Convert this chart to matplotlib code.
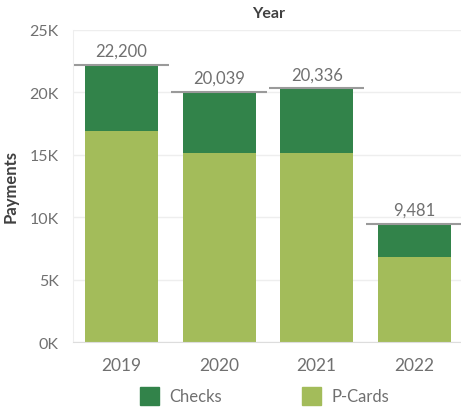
import matplotlib.pyplot as plt
from matplotlib.patches import Patch

years = ["2019", "2020", "2021", "2022"]
totals = [22200, 20039, 20336, 9481]
pcards = [16900, 15100, 15100, 6800]
checks = [t - p for t, p in zip(totals, pcards)]
yticks = [0, 5000, 10000, 15000, 20000, 25000]
ytick_labels = ["0K", "5K", "10K", "15K", "20K", "25K"]

dark_green = "#32834a"
light_green = "#a3bc5a"
grey_text = "#707070"

plt.rcParams['font.family'] = ['Lato', 'DejaVu Sans']

fig = plt.figure(figsize=(4.61, 4.10), dpi=100)
ax = fig.add_axes([0.158, 0.163, 0.842, 0.762])

x = range(len(years))
ax.bar(x, pcards, width=0.75, color=light_green, zorder=2)
ax.bar(x, checks, width=0.75, bottom=pcards, color=dark_green, zorder=2)

# total reference lines + labels
for i, t in enumerate(totals):
    ax.hlines(t, i - 0.49, i + 0.49, color="#9a9a9a", lw=1.5, zorder=3)
    ax.text(i, t + 450, f"{t:,}", ha="center", va="bottom",
            fontsize=12, color=grey_text)

ax.set_xlim(-0.5, 3.48)
ax.set_ylim(0, 25000)
ax.set_xticks(list(x))
ax.set_xticklabels(years, fontsize=12.5, color=grey_text)
ax.set_yticks(yticks)
ax.set_yticklabels(ytick_labels, fontsize=11.5, color=grey_text)
ax.tick_params(axis="both", length=0)
ax.tick_params(axis="y", pad=10)
ax.tick_params(axis="x", pad=11)
ax.grid(axis="y", color="#eeeeee", lw=1, zorder=0)

for s in ["top", "right"]:
    ax.spines[s].set_visible(False)
ax.spines["left"].set_color("#eeeeee")
ax.spines["bottom"].set_color("#dddddd")

ax.set_ylabel("Payments", fontsize=12, fontweight="bold", color="#404040", labelpad=8)
fig.text(0.582, 0.965, "Year", ha="center", va="center",
         fontsize=11.5, fontweight="bold", color="#404040")

handles = [Patch(color=dark_green, label="Checks"),
           Patch(color=light_green, label="P-Cards")]
fig.legend(handles=handles, loc="center", bbox_to_anchor=(0.574, 0.032),
           ncol=2, frameon=False, fontsize=12, handlelength=1.15,
           handleheight=1.3, handletextpad=0.6, columnspacing=4.8,
           labelcolor=grey_text)

fig.savefig("out.png", dpi=100)
